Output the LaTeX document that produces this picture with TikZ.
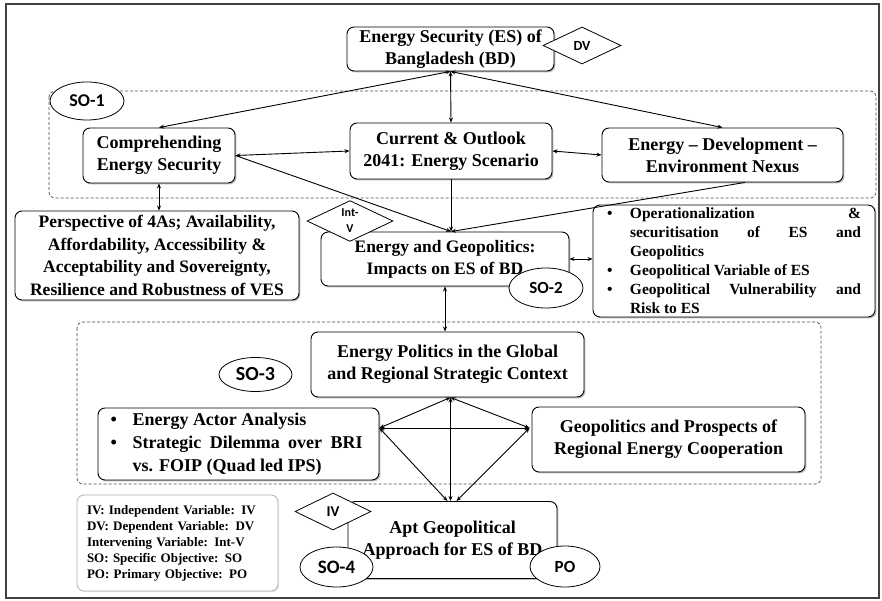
\documentclass[tikz,border=0pt]{standalone}
\usepackage{fontspec}
\setmainfont{Liberation Serif}
\newfontfamily\lblfont{Carlito}
\usetikzlibrary{shapes.geometric,arrows.meta,shadows,calc}

\begin{document}
\begin{tikzpicture}[x=1pt,y=-1pt,
  every node/.style={inner sep=0pt},
  box/.style={draw, line width=0.9pt, rounded corners=7pt, fill=white, align=center,
    drop shadow={shadow xshift=1.4pt, shadow yshift=-1.4pt, opacity=0.45, fill=black!60},
    font=\fontsize{18}{22}\selectfont\bfseries},
  tag/.style={draw, line width=0.8pt, fill=white, align=center},
  oval/.style={tag, ellipse},
  kite/.style={tag, diamond},
  group/.style={draw=black!70, dash pattern=on 3pt off 2pt, line width=0.7pt, rounded corners=6pt},
  tip/.style={line width=0.9pt},
  link/.style={tip, {Stealth[length=5pt,width=4pt]}-{Stealth[length=5pt,width=4pt]}},
  feed/.style={tip, -{Stealth[length=5pt,width=4pt]}}
]
\useasboundingbox (0,0) rectangle (882,601);

% outer frame
\draw[line width=1.1pt, black!75] (6,4) rectangle (879,598);

% dashed groupings of the specific objectives
\draw[group] (49,91) rectangle (876,198);
\draw[group] (77,322) rectangle (821,484);

% main boxes
\node[box, minimum width=207pt, minimum height=44pt] (es) at (450.5,49)
  {Energy Security (ES) of\\Bangladesh (BD)};
\node[box, minimum width=152pt, minimum height=55pt] (comp) at (159,155.5)
  {Comprehending\\Energy Security};
\node[box, minimum width=202pt, minimum height=56pt] (cur) at (451,151)
  {Current \& Outlook\\2041: Energy Scenario};
\node[box, minimum width=241pt, minimum height=54pt] (nex) at (722.5,155)
  {Energy -- Development --\\Environment Nexus};
\node[box, minimum width=284pt, minimum height=89pt,
  font=\fontsize{17.5}{22.5}\selectfont\bfseries] (persp) at (157,255.5)
  {Perspective of 4As; Availability,\\Affordability, Accessibility \&\\
   Acceptability and Sovereignty,\\Resilience and Robustness of VES};
\node[box, minimum width=248pt, minimum height=54pt,
  font=\fontsize{17.5}{22}\selectfont\bfseries] (geo) at (445,259)
  {Energy and Geopolitics:\\Impacts on ES of BD};
\node[box, minimum width=282pt, minimum height=112pt, align=left,
  font=\fontsize{15.5}{19}\selectfont\bfseries] (oper) at (734,261)
  {\makebox[23pt][l]{\textbullet}\makebox[231pt][s]{Operationalization\hfill\&}\\
   \hspace*{23pt}\makebox[231pt][s]{securitisation\hfill of\hfill ES\hfill and}\\
   \hspace*{23pt}Geopolitics\\
   \makebox[23pt][l]{\textbullet}Geopolitical Variable of ES\\
   \makebox[23pt][l]{\textbullet}\makebox[231pt][s]{Geopolitical\hfill Vulnerability\hfill and}\\
   \hspace*{23pt}Risk to ES};
\node[box, minimum width=273pt, minimum height=65pt] (pol) at (447.5,364.5)
  {Energy Politics in the Global\\and Regional Strategic Context};
\node[box, minimum width=281pt, minimum height=72pt, align=left,
  font=\fontsize{18}{23}\selectfont\bfseries] (actor) at (238.5,444)
  {\makebox[22pt][l]{\textbullet}Energy Actor Analysis\hspace*{60pt}\\
   \makebox[22pt][l]{\textbullet}\makebox[230pt][s]{Strategic Dilemma over BRI}\\
   \hspace*{22pt}vs. FOIP (Quad led IPS)};
\node[box, minimum width=273pt, minimum height=65pt] (pros) at (668.5,439.5)
  {Geopolitics and Prospects of\\Regional Energy Cooperation};
\node[box, minimum width=209pt, minimum height=77pt] (apt) at (452.5,540)
  {Apt Geopolitical\\Approach for ES of BD};

% legend
\node[draw=black!30, line width=0.8pt, rounded corners=7pt, fill=white,
  drop shadow={shadow xshift=1.2pt, shadow yshift=-1.2pt, opacity=0.2, fill=black!50},
  text width=181pt, inner xsep=10pt, minimum height=96pt, align=left,
  font=\fontsize{13}{16}\selectfont\bfseries] (legend) at (177.5,543)
  {IV: Independent Variable: IV\\DV: Dependent Variable: DV\\Intervening Variable: Int-V\\
   SO: Specific Objective: SO\\PO: Primary Objective: PO};

% connectors
\draw[link] (es.south) -- (cur.north);
\draw[link] (es.south) -- (comp.north);
\draw[link] (es.south) -- (nex.north);
\draw[link] (comp.east) -- (cur.west);
\draw[link] (cur.east) -- (nex.west);
\draw[link] (comp.south) -- (comp.south |- persp.north);
\coordinate (geotop) at (cur.south |- geo.north);
\draw[feed] (comp.east) -- (geotop);
\draw[feed] (cur.south) -- (geotop);
\draw[feed] ($(nex.south)+(22.5,0)$) -- (geotop);
\draw[link] (geo.east) -- (geo.east -| oper.west);
\draw[link] (geo.south) -- (geo.south |- pol.north);

\coordinate (polb) at ($(pol.south)+(3,0)$);
\coordinate (actr) at ($(actor.east)+(0,-16)$);
\coordinate (prol) at ($(pros.west)+(-2,-11.5)$);
\draw[link] (polb) -- (actr);
\draw[link] (polb) -- (prol);
\draw[link] (polb) -- (polb |- apt.north);
\draw[link] (actr) -- (prol);
\draw[link] (actr) -- ($(apt.north)+(-5,0)$);
\draw[link] (prol) -- ($(apt.north)+(4,0)$);

% variable and objective tags
\node[kite, minimum width=78pt, minimum height=37pt,
  font=\lblfont\bfseries\fontsize{14}{16}\selectfont] (dv) at (582,45.5) {DV};
\node[kite, minimum width=86pt, minimum height=36pt,
  font=\lblfont\bfseries\fontsize{12}{16}\selectfont] (intv) at (350,221) {Int-\\V};
\node[kite, minimum width=76pt, minimum height=37pt,
  font=\lblfont\bfseries\fontsize{15}{16}\selectfont] (iv) at (333,511.5) {IV};
\node[oval, minimum width=74pt, minimum height=38pt,
  font=\lblfont\bfseries\fontsize{18}{20}\selectfont] (so1) at (87,101) {SO-1};
\node[oval, minimum width=74pt, minimum height=40pt,
  font=\lblfont\bfseries\fontsize{17}{20}\selectfont] (so2) at (546,288) {SO-2};
\node[oval, minimum width=73pt, minimum height=34pt,
  font=\lblfont\bfseries\fontsize{20}{20}\selectfont] (so3) at (255.5,374.5) {SO-3};
\node[oval, minimum width=73pt, minimum height=40pt,
  font=\lblfont\bfseries\fontsize{19}{20}\selectfont] (so4) at (336.5,567) {SO-4};
\node[oval, minimum width=70pt, minimum height=41pt,
  font=\lblfont\bfseries\fontsize{17}{20}\selectfont] (po) at (565,566.5) {PO};
\end{tikzpicture}
\end{document}
